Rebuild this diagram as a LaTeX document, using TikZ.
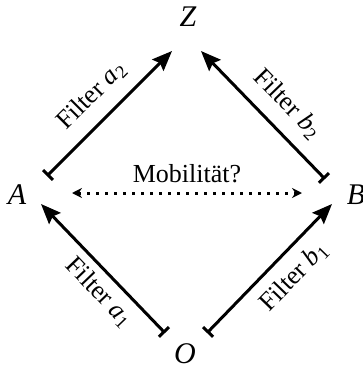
\documentclass[tikz,border=0pt]{standalone}
\usepackage{fontspec}
\setmainfont{Liberation Serif}
\usetikzlibrary{arrows.meta}

\begin{document}
\begin{tikzpicture}[
  x=1pt, y=-1pt, font=\fontsize{26}{30}\selectfont,
  pt/.style={font=\fontsize{30}{34}\selectfont\itshape, inner sep=0pt},
  filt/.style={line width=3pt, {Bar[width=14pt]}-{Stealth[length=20pt,width=16pt,inset=3pt]}},
  mob/.style={line width=3pt, dash pattern=on 3pt off 6pt, {Stealth[length=10pt,width=10pt]}-{Stealth[length=10pt,width=10pt]}},
  lab/.style={sloped, inner sep=6pt}
]
  \useasboundingbox (0,0) rectangle (363,367);

  \node[pt] (Z) at (188,17) {Z};
  \node[pt] (A) at (17,195) {A};
  \node[pt] (B) at (356,195) {B};
  \node[pt] (O) at (185,354) {O};

  % ends of the filter arrows
  \coordinate (a1s) at (165,333); \coordinate (a1e) at (41,204);
  \coordinate (b1s) at (207,333); \coordinate (b1e) at (332,204);
  \coordinate (a2s) at (47,176);  \coordinate (a2e) at (172,51);
  \coordinate (b2s) at (325,179); \coordinate (b2e) at (201,51);
  \coordinate (ml) at (72,193);   \coordinate (mr) at (302,193);

  \draw[filt] (a1s) -- node[lab, below, pos=0.42, inner sep=7pt] {Filter \textit{a}\textsubscript{1}} (a1e);
  \draw[filt] (b1s) -- node[lab, below, pos=0.56, inner sep=11pt] {Filter \textit{b}\textsubscript{1}} (b1e);
  \draw[filt] (a2s) -- node[lab, above, pos=0.5, inner sep=13pt] {Filter \textit{a}\textsubscript{2}} (a2e);
  \draw[filt] (b2s) -- node[lab, above, pos=0.45, inner sep=13pt] {Filter \textit{b}\textsubscript{2}} (b2e);

  \draw[mob] (ml) -- node[above, inner sep=9pt] (mq) {Mobilität?} (mr);
\end{tikzpicture}
\end{document}
